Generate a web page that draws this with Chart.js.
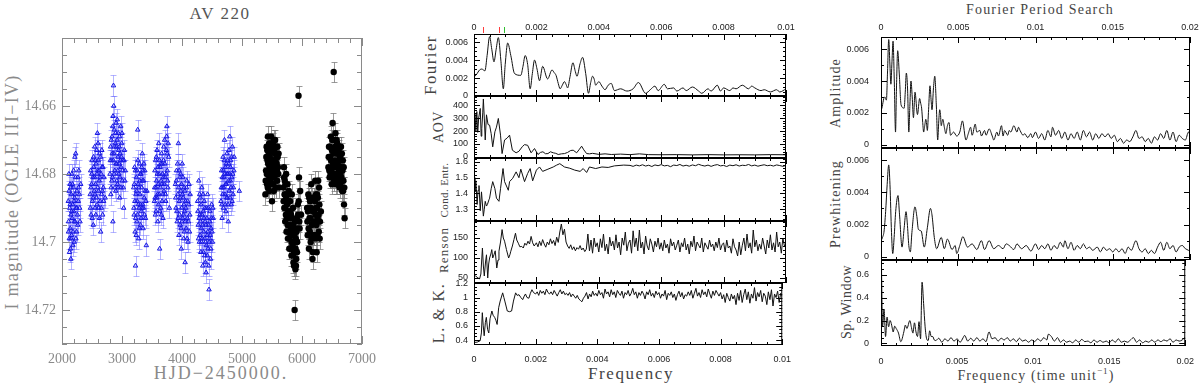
<!DOCTYPE html>
<html>
<head>
<meta charset="utf-8">
<script src="https://cdn.jsdelivr.net/npm/chart.js@4.4.1/dist/chart.umd.min.js"></script>
<style>
body { margin: 0; background: #fff; width: 1200px; height: 385px; overflow: hidden; position: relative; font-family: "Liberation Serif", serif; }
canvas { position: absolute; }
.lbl { position: absolute; white-space: nowrap; transform: translate(-50%, -50%); line-height: 1; }
.rot { transform: translate(-50%, -50%) rotate(-90deg); }
sup { font-size: 0.65em; }
</style>
</head>
<body>
<div class="lbl" style="left:220px;top:13px;font-size:17px;letter-spacing:1.5px;color:#555">AV 220</div>
<div class="lbl" style="left:221px;top:373px;font-size:18px;letter-spacing:2px;color:#8a8a8a">HJD−2450000.</div>
<div class="lbl rot" style="left:12px;top:192px;font-size:18px;letter-spacing:1.3px;color:#8a8a8a">I magnitude (OGLE III−IV)</div>

<div class="lbl rot" style="left:430px;top:65px;font-size:17px;letter-spacing:1.4px;color:#444">Fourier</div>
<div class="lbl rot" style="left:439px;top:127px;font-size:14px;letter-spacing:0.6px;color:#444">AOV</div>
<div class="lbl rot" style="left:444px;top:190px;font-size:11px;letter-spacing:0.4px;color:#444">Cond. Entr.</div>
<div class="lbl rot" style="left:443px;top:250px;font-size:13px;letter-spacing:1.2px;color:#444">Renson</div>
<div class="lbl rot" style="left:439px;top:313px;font-size:16px;letter-spacing:1.5px;color:#444">L. &amp; K.</div>
<div class="lbl" style="left:631px;top:373px;font-size:17px;letter-spacing:1.6px;color:#444">Frequency</div>

<div class="lbl" style="left:1040px;top:10px;font-size:14px;letter-spacing:1.2px;color:#444">Fourier Period Search</div>
<div class="lbl rot" style="left:836px;top:93px;font-size:14px;letter-spacing:1.1px;color:#444">Amplitude</div>
<div class="lbl rot" style="left:836px;top:204px;font-size:14px;letter-spacing:1.1px;color:#444">Prewhitening</div>
<div class="lbl rot" style="left:847px;top:302px;font-size:14px;letter-spacing:0.5px;color:#444">Sp. Window</div>
<div class="lbl" style="left:1036px;top:375px;font-size:14px;letter-spacing:1.1px;color:#444">Frequency (time unit<sup>−1</sup>)</div>

<script>
// ---- light curve: OGLE III-IV seasons (blue), [HJD-2450000, I mag]
const ogleS1 = [[2105,14.688],[2110,14.694],[2118,14.685],[2122,14.699],[2128,14.690],[2133,14.683],[2138,14.696],[2142,14.702],[2147,14.705],[2150,14.692],[2155,14.686],[2160,14.698],[2165,14.680],[2170,14.693],[2178,14.689],[2185,14.697],[2190,14.684],[2196,14.691],[2203,14.700],[2210,14.687],[2215,14.675],[2220,14.694],[2228,14.674],[2235,14.690],[2242,14.697],[2250,14.685],[2258,14.692],[2265,14.681],[2272,14.688],[2280,14.679],[2290,14.686],[2300,14.694],[2312,14.683],
  [2108,14.697],[2115,14.680],[2125,14.703],[2136,14.689],[2145,14.684],[2152,14.699],[2162,14.691],[2175,14.683],[2182,14.701],[2193,14.679],[2200,14.688],[2207,14.694],[2218,14.686],[2225,14.681],[2232,14.699],[2246,14.690],[2262,14.695],[2276,14.684],[2295,14.690]];
const ogleS2 = [[2470,14.686],[2478,14.679],[2485,14.692],[2492,14.683],[2500,14.676],[2508,14.688],[2515,14.681],[2522,14.695],[2530,14.678],[2538,14.685],[2545,14.672],[2552,14.690],[2560,14.683],[2568,14.677],[2575,14.687],[2582,14.680],[2590,14.668],[2597,14.684],[2605,14.676],[2612,14.690],[2620,14.682],[2628,14.674],[2636,14.688],[2645,14.697],[2652,14.680],[2660,14.686],[2668,14.678],[2678,14.692],[2688,14.684],[2700,14.681],[2720,14.687],
  [2474,14.690],[2482,14.684],[2496,14.680],[2504,14.693],[2519,14.687],[2526,14.675],[2542,14.681],[2549,14.686],[2556,14.676],[2564,14.692],[2579,14.673],[2586,14.689],[2594,14.679],[2601,14.671],[2609,14.685],[2616,14.679],[2624,14.693],[2632,14.681],[2641,14.675],[2656,14.690],[2664,14.673],[2673,14.685],[2683,14.678],[2694,14.688]];
const ogleS3 = [[2800,14.680],[2810,14.672],[2818,14.684],[2826,14.676],[2834,14.669],[2842,14.681],[2848,14.694],[2850,14.663],[2858,14.654],[2865,14.674],[2872,14.667],[2880,14.679],[2888,14.671],[2895,14.685],[2902,14.665],[2910,14.677],[2918,14.670],[2925,14.683],[2932,14.675],[2940,14.668],[2948,14.680],[2955,14.672],[2962,14.687],[2970,14.674],[2978,14.666],[2986,14.678],[2995,14.671],[3005,14.682],[3015,14.676],[3028,14.690],[3040,14.673],[3055,14.679],
  [2805,14.676],[2814,14.686],[2822,14.670],[2830,14.682],[2838,14.674],[2846,14.666],[2854,14.676],[2862,14.660],[2869,14.680],[2876,14.672],[2884,14.684],[2892,14.668],[2899,14.677],[2906,14.672],[2914,14.682],[2921,14.664],[2929,14.679],[2936,14.684],[2944,14.673],[2952,14.677],[2959,14.669],[2966,14.681],[2974,14.676],[2982,14.684],[2990,14.675],[3000,14.668],[3010,14.679],[3022,14.684],[3034,14.676],[3048,14.682]];
const ogleS4 = [[3195,14.684],[3202,14.692],[3210,14.678],[3218,14.697],[3225,14.707],[3232,14.686],[3240,14.681],[3248,14.694],[3255,14.688],[3262,14.667],[3270,14.683],[3278,14.699],[3285,14.690],[3292,14.677],[3300,14.686],[3308,14.695],[3315,14.680],[3322,14.691],[3330,14.684],[3338,14.674],[3345,14.689],[3352,14.696],[3360,14.682],[3370,14.687],[3380,14.679],[3392,14.693],[3405,14.701],[3415,14.685],
  [3198,14.690],[3206,14.683],[3214,14.688],[3222,14.679],[3228,14.693],[3236,14.698],[3244,14.685],[3251,14.679],[3259,14.692],[3266,14.676],[3274,14.689],[3282,14.684],[3289,14.696],[3296,14.682],[3304,14.680],[3311,14.689],[3318,14.693],[3326,14.678],[3334,14.690],[3341,14.682],[3348,14.679],[3356,14.690],[3365,14.677],[3375,14.692],[3386,14.685],[3398,14.688]];
const ogleS5 = [[3540,14.688],[3548,14.679],[3556,14.692],[3564,14.684],[3572,14.675],[3580,14.687],[3588,14.680],[3596,14.694],[3604,14.683],[3612,14.671],[3620,14.686],[3628,14.702],[3636,14.678],[3644,14.690],[3652,14.682],[3660,14.674],[3668,14.688],[3676,14.680],[3684,14.693],[3692,14.676],[3700,14.685],[3710,14.670],[3720,14.681],[3730,14.688],[3740,14.673],[3748,14.666],[3755,14.679],[3765,14.684],[3778,14.675],[3790,14.690],
  [3544,14.684],[3552,14.687],[3560,14.676],[3568,14.691],[3576,14.682],[3584,14.673],[3592,14.686],[3600,14.678],[3608,14.689],[3616,14.680],[3624,14.676],[3632,14.691],[3640,14.684],[3648,14.677],[3656,14.692],[3664,14.683],[3672,14.677],[3680,14.686],[3688,14.681],[3696,14.672],[3705,14.683],[3715,14.677],[3725,14.686],[3735,14.680],[3744,14.669],[3752,14.674],[3760,14.682],[3770,14.671]];
const ogleS6 = [[3890,14.683],[3900,14.690],[3910,14.679],[3920,14.694],[3930,14.686],[3940,14.671],[3948,14.698],[3956,14.688],[3964,14.681],[3972,14.695],[3980,14.685],[3988,14.702],[3996,14.690],[4004,14.677],[4012,14.693],[4020,14.687],[4028,14.699],[4036,14.684],[4044,14.691],[4052,14.706],[4060,14.688],[4070,14.696],[4080,14.682],[4090,14.693],[4100,14.700],[4112,14.689],[4125,14.697],[4135,14.686],
  [3895,14.687],[3905,14.682],[3915,14.691],[3925,14.677],[3935,14.693],[3944,14.684],[3952,14.679],[3960,14.692],[3968,14.687],[3976,14.680],[3984,14.696],[3992,14.683],[4000,14.694],[4008,14.686],[4016,14.681],[4024,14.692],[4032,14.689],[4040,14.697],[4048,14.685],[4056,14.694],[4065,14.690],[4075,14.684],[4085,14.699],[4095,14.688],[4106,14.694],[4118,14.683],[4130,14.692]];
const ogleS7 = [[4260,14.688],[4270,14.695],[4280,14.682],[4290,14.700],[4298,14.692],[4306,14.687],[4314,14.703],[4322,14.696],[4330,14.684],[4338,14.699],[4346,14.707],[4354,14.691],[4362,14.697],[4370,14.688],[4378,14.704],[4386,14.694],[4394,14.700],[4402,14.709],[4410,14.690],[4418,14.698],[4426,14.686],[4434,14.702],[4442,14.695],[4450,14.714],[4458,14.699],[4466,14.691],[4475,14.705],[4485,14.696],[4495,14.689],[4508,14.700],[4520,14.693],
  [4265,14.691],[4275,14.699],[4285,14.693],[4294,14.686],[4302,14.698],[4310,14.694],[4318,14.689],[4326,14.700],[4334,14.692],[4342,14.695],[4350,14.686],[4358,14.703],[4366,14.693],[4374,14.699],[4382,14.690],[4390,14.706],[4398,14.695],[4406,14.701],[4414,14.693],[4422,14.704],[4430,14.697],[4438,14.690],[4446,14.707],[4454,14.700],[4462,14.694],[4470,14.698],[4480,14.702],[4490,14.693],[4500,14.697],[4514,14.690]];
const ogleS8 = [[4650,14.688],[4660,14.679],[4668,14.693],[4676,14.684],[4684,14.675],[4692,14.690],[4700,14.681],[4708,14.670],[4716,14.686],[4724,14.678],[4732,14.691],[4740,14.683],[4748,14.674],[4756,14.687],[4764,14.680],[4772,14.694],[4780,14.677],[4788,14.685],[4796,14.669],[4804,14.682],[4812,14.676],[4820,14.689],[4830,14.681],[4840,14.672],[4852,14.686],[4865,14.679],[4955,14.685],
  [4655,14.684],[4664,14.689],[4672,14.681],[4680,14.686],[4688,14.679],[4696,14.684],[4704,14.676],[4712,14.680],[4720,14.689],[4728,14.683],[4736,14.677],[4744,14.687],[4752,14.680],[4760,14.676],[4768,14.689],[4776,14.682],[4784,14.673],[4792,14.680],[4800,14.687],[4808,14.678],[4816,14.684],[4825,14.675],[4835,14.688],[4846,14.680],[4858,14.684],[4870,14.675]];
const ogleErr = 0.003;

// ---- light curve: later seasons (black)
const newS1 = [[5390,14.686],[5400,14.679],[5410,14.672],[5418,14.683],[5425,14.676],[5432,14.669],[5440,14.680],[5447,14.674],[5454,14.685],[5460,14.678],[5467,14.671],[5474,14.682],[5480,14.676],[5487,14.669],[5494,14.680],[5500,14.688],[5507,14.673],[5514,14.678],[5520,14.683],[5527,14.670],[5534,14.676],[5541,14.681],[5548,14.674],[5555,14.679],[5562,14.684],[5570,14.672],[5578,14.677],[5586,14.682],[5595,14.675],[5605,14.680],[5615,14.684],
  [5395,14.682],[5405,14.675],[5414,14.680],[5422,14.673],[5429,14.684],[5436,14.677],[5444,14.682],[5451,14.671],[5457,14.681],[5464,14.675],[5470,14.679],[5477,14.673],[5484,14.683],[5490,14.677],[5497,14.672],[5504,14.681],[5510,14.676],[5517,14.671],[5524,14.680],[5530,14.685],[5538,14.673],[5545,14.678],[5552,14.670],[5559,14.676],[5566,14.680],[5574,14.675],[5582,14.679],[5590,14.672],[5600,14.678],[5610,14.674]];
const newS2 = [[5690,14.684],[5698,14.678],[5705,14.690],[5712,14.682],[5720,14.694],[5728,14.686],[5735,14.680],[5742,14.697],[5750,14.689],[5758,14.683],[5765,14.699],[5772,14.691],[5780,14.685],[5788,14.702],[5795,14.693],[5802,14.688],[5810,14.698],[5817,14.692],[5824,14.704],[5830,14.686],[5837,14.696],[5844,14.701],[5850,14.690],[5857,14.706],[5864,14.697],[5870,14.703],[5877,14.720],[5884,14.694],[5890,14.708],[5897,14.699],[5904,14.705],[5912,14.693],[5920,14.700],[5930,14.689],[5942,14.657],[5950,14.681],[5960,14.696],[5970,14.685],[5985,14.692],
  [5694,14.688],[5701,14.681],[5709,14.686],[5716,14.690],[5724,14.683],[5731,14.692],[5738,14.687],[5746,14.693],[5754,14.686],[5761,14.695],[5768,14.688],[5776,14.697],[5784,14.691],[5791,14.699],[5798,14.695],[5806,14.691],[5813,14.702],[5820,14.696],[5827,14.700],[5834,14.693],[5840,14.698],[5847,14.704],[5854,14.695],[5860,14.700],[5867,14.707],[5874,14.698],[5880,14.703],[5887,14.697],[5894,14.702],[5900,14.707],[5908,14.697],[5916,14.703],[5925,14.696],[5935,14.692],[5945,14.688],[5955,14.694]];
const newS3 = [[6085,14.690],[6095,14.698],[6105,14.686],[6115,14.702],[6125,14.693],[6135,14.688],[6145,14.700],[6155,14.683],[6165,14.695],[6175,14.705],[6185,14.691],[6195,14.698],[6205,14.687],[6212,14.694],[6220,14.682],[6228,14.699],[6236,14.690],[6244,14.703],[6252,14.686],[6260,14.693],[6270,14.682],[6280,14.697],[6290,14.689],[6300,14.694],[6315,14.691],
  [6090,14.694],[6100,14.691],[6110,14.696],[6120,14.687],[6130,14.697],[6140,14.693],[6150,14.690],[6160,14.699],[6170,14.687],[6180,14.703],[6190,14.694],[6200,14.691],[6208,14.698],[6216,14.688],[6224,14.692],[6232,14.686],[6240,14.695],[6248,14.690],[6256,14.698],[6265,14.687],[6275,14.692],[6285,14.684],[6295,14.699]];
const newS4 = [[6440,14.678],[6450,14.672],[6460,14.681],[6470,14.675],[6480,14.669],[6490,14.679],[6500,14.673],[6510,14.665],[6518,14.677],[6528,14.650],[6535,14.682],[6542,14.670],[6550,14.676],[6558,14.668],[6565,14.680],[6572,14.674],[6580,14.683],[6588,14.671],[6595,14.677],[6602,14.681],[6610,14.673],[6618,14.679],[6626,14.684],[6634,14.675],[6642,14.680],[6650,14.672],[6660,14.678],[6670,14.685],[6680,14.676],[6690,14.682],[6700,14.689],[6705,14.684],[6710,14.693],
  [6445,14.675],[6455,14.679],[6465,14.672],[6475,14.680],[6485,14.676],[6495,14.683],[6505,14.670],[6514,14.681],[6523,14.674],[6532,14.678],[6538,14.673],[6546,14.680],[6554,14.672],[6562,14.677],[6569,14.683],[6576,14.670],[6584,14.678],[6592,14.674],[6599,14.680],[6606,14.676],[6614,14.682],[6622,14.672],[6630,14.678],[6638,14.683],[6646,14.676],[6655,14.681],[6665,14.674],[6675,14.679],[6685,14.685],[6695,14.678]];
const newErr = 0.003;

// ---- periodograms, [frequency, value]
const fourierCurve = [[0,0.0021],[0.00008,0.0024],[0.00018,0.0029],[0.00025,0.0030],[0.00035,0.0028],[0.00042,0.0045],[0.0005,0.0066],[0.00057,0.0052],[0.00064,0.0038],[0.00071,0.0052],[0.00078,0.0065],[0.00086,0.0040],[0.00094,0.0008],[0.001,0.0035],[0.00108,0.0059],[0.00118,0.0045],[0.0013,0.0025],[0.0015,0.0023],[0.00157,0.0033],[0.00164,0.0045],[0.00172,0.0035],[0.0018,0.0008],[0.00187,0.0025],[0.00194,0.0040],[0.00202,0.0030],[0.0021,0.0017],[0.0022,0.0033],[0.00236,0.0019],[0.0025,0.0029],[0.00257,0.0026],[0.00263,0.0023],[0.0027,0.0014],[0.00276,0.0008],[0.00283,0.0012],[0.0029,0.0016],[0.00295,0.0013],[0.003,0.0009],[0.00308,0.0022],[0.00317,0.0037],[0.00325,0.0027],[0.0033,0.0022],[0.0034,0.0036],[0.00348,0.0043],[0.00358,0.0025],[0.00367,0.0003],[0.00374,0.0015],[0.0038,0.0022],[0.00385,0.0019],[0.0039,0.0012],[0.00395,0.0014],[0.004,0.0016],[0.0041,0.0011],[0.0042,0.0007],[0.0043,0.0012],[0.0044,0.0014],[0.0045,0.0006],[0.0047,0.0008],[0.0049,0.00055],[0.0051,0.0008],[0.00527,0.0015],[0.0055,0.0003],[0.00565,0.0007],[0.0058,0.0011],[0.0059,0.0006],[0.0061,0.0013],[0.0062,0.0008],[0.0064,0.0009],[0.0065,0.00055],[0.0067,0.0009],[0.0068,0.0006],[0.007,0.001],[0.0072,0.00055],[0.0073,0.0003],[0.0075,0.0008],[0.0076,0.00055],[0.0078,0.0012],[0.0079,0.00055],[0.008,0.0009],[0.0082,0.0006],[0.0083,0.0009],[0.0084,0.0008],[0.0086,0.0012],[0.0088,0.0008],[0.0089,0.0011],[0.009,0.0009],[0.0092,0.0006],[0.0093,0.0007],[0.0095,0.00045],[0.0097,0.0007],[0.0098,0.00045],[0.01,0.0008]];
const amplitudeTail = [[0.0102,0.0004],[0.0104,0.0007],[0.0106,0.0003],[0.0108,0.0009],[0.011,0.0005],[0.0111,0.0011],[0.0113,0.0006],[0.0115,0.0009],[0.0117,0.0004],[0.0119,0.0008],[0.0121,0.0003],[0.0123,0.0007],[0.0125,0.0004],[0.0127,0.0008],[0.0129,0.0003],[0.0131,0.0009],[0.0133,0.0005],[0.0135,0.0008],[0.0137,0.0003],[0.0139,0.0007],[0.0141,0.0004],[0.0143,0.0007],[0.0145,0.0005],[0.0147,0.0007],[0.0149,0.0004],[0.0151,0.0006],[0.0153,0.0002],[0.0155,0.0004],[0.0157,0.0001],[0.0159,0.0003],[0.0161,0.0002],[0.0163,0.0005],[0.0165,0.0009],[0.0167,0.0004],[0.0169,0.0005],[0.0171,0.0002],[0.0173,0.0004],[0.0175,0.0001],[0.0177,0.0005],[0.0179,0.0003],[0.0181,0.0007],[0.0183,0.0004],[0.0185,0.0009],[0.0187,0.0003],[0.0189,0.0008],[0.0191,0.0002],[0.0193,0.0006],[0.0195,0.0004],[0.0197,0.0003],[0.0199,0.0008],[0.02,0.0006]];
const aovCurve = [[0,245],[0.00003,330],[0.00006,200],[0.00009,350],[0.00012,190],[0.00015,300],[0.0002,374],[0.00023,160],[0.00025,220],[0.00028,340],[0.0003,447],[0.00033,300],[0.00036,131],[0.0004,325],[0.00045,250],[0.0005,245],[0.00055,180],[0.0006,78],[0.00067,194],[0.00072,230],[0.00078,297],[0.00085,168],[0.0009,26],[0.00098,131],[0.00106,145],[0.00114,168],[0.00123,52],[0.00135,32],[0.00144,44],[0.00155,80],[0.00162,95],[0.00172,90],[0.00183,32],[0.00194,65],[0.00205,19],[0.00213,35],[0.00221,40],[0.00229,25],[0.00237,26],[0.00245,40],[0.00254,32],[0.00262,28],[0.0027,19],[0.0028,24],[0.0029,26],[0.003,35],[0.0031,50],[0.00318,52],[0.00329,32],[0.00338,60],[0.00345,83],[0.00352,55],[0.00361,26],[0.0037,24],[0.0038,28],[0.004,20],[0.0042,24],[0.0044,19],[0.0047,22],[0.005,18],[0.0053,24],[0.0056,18],[0.006,17],[0.0065,18],[0.007,16],[0.0075,18],[0.008,16],[0.0085,17],[0.009,16],[0.0095,18],[0.01,17]];
const entropyCurve = [[0,1.50],[0.00003,1.41],[0.00006,1.48],[0.0001,1.33],[0.00013,1.42],[0.00016,1.45],[0.0002,1.29],[0.00024,1.41],[0.0003,1.256],[0.00033,1.30],[0.00036,1.35],[0.0004,1.32],[0.00043,1.33],[0.00048,1.36],[0.0005,1.37],[0.00055,1.43],[0.0006,1.475],[0.00067,1.43],[0.00072,1.37],[0.0008,1.35],[0.00085,1.43],[0.00093,1.558],[0.00098,1.475],[0.0011,1.42],[0.00114,1.475],[0.00124,1.496],[0.00135,1.537],[0.00144,1.50],[0.0015,1.554],[0.00162,1.475],[0.00172,1.527],[0.0018,1.558],[0.00188,1.48],[0.002,1.548],[0.0021,1.568],[0.0022,1.54],[0.00237,1.554],[0.00254,1.568],[0.00264,1.579],[0.00275,1.589],[0.0029,1.568],[0.00307,1.56],[0.00323,1.548],[0.0034,1.54],[0.0035,1.558],[0.00361,1.533],[0.0037,1.568],[0.0039,1.558],[0.0041,1.568],[0.0043,1.565],[0.0045,1.575],[0.0048,1.58]];
const entropyTail = [1.578,1.572,1.580,1.575,1.582,1.574,1.579,1.571,1.581,1.576,1.583,1.575,1.578,1.570,1.580,1.577,1.584,1.574,1.579,1.573,1.581,1.576,1.585,1.578,1.574,1.580,1.572,1.579,1.583,1.575,1.578,1.571,1.580,1.576,1.582,1.574,1.579,1.577,1.584,1.575,1.580,1.573,1.578,1.582,1.576,1.579,1.574,1.581,1.577,1.572,1.578];
const rensonCurve = [[0,58],[0.00005,55],[0.0001,52],[0.00013,50],[0.00018,48],[0.00022,60],[0.00027,125],[0.0003,80],[0.00033,55],[0.00037,90],[0.0004,108],[0.00044,50],[0.00047,85],[0.0005,100],[0.00054,110],[0.00057,121],[0.0006,100],[0.00064,108],[0.00068,118],[0.00073,75],[0.00077,95],[0.0008,117],[0.00085,140],[0.0009,171],[0.00094,150],[0.00098,142],[0.00104,121],[0.00111,100],[0.00115,108],[0.00118,117],[0.00123,130],[0.00128,146],[0.00133,162],[0.00137,145],[0.00142,137],[0.00147,128],[0.00153,129],[0.00158,125],[0.00163,137],[0.00168,132],[0.00173,142],[0.00178,135],[0.00183,154],[0.00188,138],[0.00193,130]];
const rensonTail = [138,128,142,131,146,135,127,140,133,148, 136,144,131,152,139,165,185,158,172,140, 130,124,133,121,128,118,126,122,131,120, 125,116,122,160,118,145,112,150,128,138, 115,148,126,160,118,135,110,152,130,142, 120,158,125,140,108,150,132,165,118,137, 145,112,168,128,150,118,170,125,140,110, 155,130,120,148,135,115,142,128,150,122, 138,118,145,125,135,112,148,130,140,120, 132,145,115,138,128,150,120,135,110,142, 128,155,118,140,132,125,150,115,138,130, 122,145,128,135,118,140,126,150,120,133, 138,115,145,125,130,112,148,128,120,105, 140,108,132,150,118,160,125,138,112,170, 128,145,118,135,122,150,130,110,145,125, 158,120,138,115,165,128,140,112,150,130, 135];
const lkCurve = [[0,0.366],[0.0001,0.37],[0.0002,0.39],[0.00024,0.5],[0.00027,0.786],[0.0003,0.6],[0.00033,0.46],[0.00037,0.65],[0.0004,0.72],[0.00044,0.55],[0.00048,0.5],[0.00052,0.7],[0.00058,0.81],[0.00062,0.75],[0.00067,0.72],[0.00071,0.68],[0.00075,0.62],[0.0008,0.856],[0.00085,0.95],[0.00093,1.066],[0.00097,1.0],[0.001,0.95],[0.00104,0.88],[0.00108,0.81],[0.00115,0.8],[0.00122,0.81],[0.00128,0.95],[0.00135,1.066],[0.0014,1.03],[0.00146,1.04],[0.00152,1.0],[0.00158,0.97],[0.00163,1.02],[0.00167,1.05],[0.00172,1.0],[0.00178,0.99],[0.00183,1.06],[0.00188,1.11],[0.00193,1.07]];
const lkTail = [1.05,1.08,1.03,1.10,1.06,1.09,1.04,1.12,1.07,1.05, 1.08,1.04,1.10,1.06,1.02,1.07,1.11,1.05,1.09,1.04, 1.06,1.03,1.07,1.01,1.05,1.02,0.99,1.03,0.98,0.96, 0.94,0.99,1.02,1.07,0.98,1.05,1.01,1.09,1.03,1.06, 1.02,1.10,1.04,1.07,0.99,1.12,1.05,1.08,1.01,1.11, 1.04,1.08,1.00,1.10,1.06,1.03,1.09,0.99,1.07,1.04, 1.10,1.02,1.06,1.13,1.04,1.08,0.99,1.07,1.03,1.09, 1.05,0.98,1.08,1.04,1.11,1.02,1.06,1.00,1.09,1.04, 1.07,0.99,1.05,1.02,1.10,0.97,1.06,1.03,1.08,1.00, 1.05,0.96,1.04,1.09,1.01,1.07,0.98,1.04,1.02,1.08, 1.03,1.10,0.99,1.06,1.13,1.02,1.07,1.00,1.11,1.04, 1.08,1.01,1.12,1.05,0.99,1.09,1.03,1.10,1.06,1.02, 1.07,0.98,1.04,0.93,1.06,1.00,0.95,1.05,0.98,1.03, 0.90,1.06,0.96,1.10,0.93,1.04,1.12,0.97,1.08,0.92, 1.05,0.99,1.14,0.95,1.07,1.01,1.10,0.94,1.06,1.02, 0.90,1.08,0.97,1.11,0.88,1.05,1.00,1.09,0.93,1.06, 1.02];
const prewhitenCurve = [[0,0.0010],[0.0001,0.0012],[0.0002,0.0016],[0.0003,0.0028],[0.0004,0.0045],[0.0005,0.0057],[0.00058,0.0045],[0.00068,0.0015],[0.00076,0.0002],[0.00085,0.0012],[0.00095,0.0028],[0.0011,0.0038],[0.0012,0.0026],[0.00136,0.0006],[0.0015,0.0018],[0.00162,0.0028],[0.0017,0.0021],[0.0018,0.0007],[0.0019,0.0003],[0.002,0.0015],[0.0022,0.0031],[0.00232,0.0025],[0.00242,0.0017],[0.0026,0.0016],[0.0028,0.0006],[0.003,0.0018],[0.0032,0.003],[0.0033,0.0026],[0.00345,0.0012],[0.0036,0.0005],[0.0039,0.0012],[0.0041,0.0005],[0.0043,0.0011],[0.0046,0.00045],[0.0048,0.0007],[0.0049,0.0002],[0.0051,0.0007],[0.0053,0.00125],[0.0056,0.0006],[0.0059,0.0008],[0.0062,0.00045],[0.0065,0.001],[0.0067,0.00045],[0.007,0.001],[0.0073,0.0005],[0.0076,0.0007],[0.0079,0.0005],[0.0081,0.0008],[0.0083,0.0007],[0.0086,0.00045],[0.0088,0.0008],[0.0091,0.0005],[0.0094,0.0007],[0.0097,0.00035],[0.01,0.0008],[0.0102,0.00045],[0.0104,0.0007],[0.0106,0.0005],[0.0108,0.0008],[0.011,0.0004],[0.0112,0.0007],[0.0114,0.0005],[0.0116,0.0009],[0.0118,0.0006],[0.0119,0.001],[0.0121,0.0005],[0.0123,0.0009],[0.0125,0.0004],[0.0127,0.0007],[0.0129,0.0005],[0.0131,0.0008],[0.0133,0.0005],[0.0135,0.0006],[0.0137,0.0004],[0.014,0.0006],[0.0142,0.0003],[0.0144,0.0006],[0.0146,0.0004],[0.0148,0.0005],[0.015,0.0003],[0.0152,0.0005],[0.0154,0.0003],[0.0156,0.0005],[0.0158,0.0002],[0.016,0.0006],[0.0162,0.0004],[0.0165,0.001],[0.0167,0.0005],[0.0169,0.0003],[0.0171,0.0005],[0.0173,0.0002],[0.0175,0.0004],[0.0177,0.0002],[0.0179,0.0006],[0.0181,0.0009],[0.0183,0.0004],[0.0185,0.0009],[0.0187,0.0005],[0.0189,0.0007],[0.0191,0.0003],[0.0193,0.0006],[0.0195,0.0007],[0.0197,0.0005],[0.0199,0.0004],[0.02,0.0003]];
const windowCurve = [[0,1.0],[0.00005,0.5],[0.0001,0.145],[0.0002,0.30],[0.0003,0.06],[0.0004,0.23],[0.0005,0.145],[0.0006,0.2],[0.0007,0.16],[0.0008,0.1],[0.0009,0.15],[0.001,0.13],[0.00115,0.09],[0.0013,0.015],[0.0015,0.1],[0.0016,0.16],[0.0017,0.13],[0.0019,0.2],[0.002,0.14],[0.0021,0.09],[0.0022,0.18],[0.0023,0.1],[0.0024,0.06],[0.0025,0.19],[0.0026,0.04],[0.0027,0.536],[0.0028,0.35],[0.0029,0.145],[0.003,0.04],[0.0031,0.025],[0.0032,0.11],[0.0033,0.06],[0.0034,0.06],[0.0035,0.03],[0.0036,0.025],[0.0038,0.045],[0.004,0.01],[0.0042,0.04],[0.0044,0.02],[0.0046,0.05],[0.0048,0.02],[0.005,0.04],[0.0052,0.01],[0.0054,0.05],[0.0055,0.07],[0.0057,0.02],[0.0059,0.045],[0.0061,0.02],[0.0063,0.05],[0.0065,0.02],[0.0067,0.04],[0.0069,0.015],[0.0071,0.1],[0.0073,0.04],[0.0075,0.05],[0.0077,0.02],[0.0079,0.045],[0.0081,0.03],[0.0083,0.05],[0.0085,0.02],[0.0087,0.04],[0.0089,0.015],[0.0091,0.045],[0.0093,0.02],[0.0095,0.03],[0.0097,0.01],[0.0099,0.03],[0.0101,0.015],[0.0103,0.04],[0.0105,0.02],[0.0107,0.05],[0.0109,0.03],[0.011,0.08],[0.0112,0.06],[0.0114,0.02],[0.0116,0.05],[0.0118,0.01],[0.012,0.03],[0.0122,0.01],[0.0124,0.02],[0.0126,0.005],[0.0128,0.03],[0.013,0.01],[0.0132,0.035],[0.0134,0.015],[0.0136,0.02],[0.0138,0.005],[0.014,0.03],[0.0142,0.01],[0.0144,0.025],[0.0146,0.01],[0.0148,0.02],[0.015,0.005],[0.0152,0.03],[0.0154,0.01],[0.0156,0.04],[0.0158,0.01],[0.016,0.02],[0.0162,0.01],[0.0164,0.03],[0.0166,0.05],[0.0168,0.01],[0.017,0.03],[0.0172,0.005],[0.0174,0.02],[0.0176,0.01],[0.0178,0.03],[0.018,0.01],[0.0182,0.03],[0.0184,0.015],[0.0186,0.03],[0.0188,0.02],[0.019,0.04],[0.0192,0.01],[0.0194,0.03],[0.0196,0.02],[0.0198,0.03],[0.02,0.055]];
const periodMarks = [0.00029, 0.0008, 0.00096];
const periodMarkColors = ['#ff3b3b', '#ff3b3b', '#2fbf2f'];

// ---- tick labels
const hjdTicks = [2000, 3000, 4000, 5000, 6000, 7000];
const magTicks = [14.66, 14.68, 14.7, 14.72];
const freqTicks10 = [0, 0.002, 0.004, 0.006, 0.008, 0.01];
const freqTicks20 = [0, 0.005, 0.01, 0.015, 0.02];
const fourierTicks = [0, 0.002, 0.004, 0.006];
const aovTicks = [0, 100, 200, 300, 400];
const entropyTicks = [1.3, 1.4, 1.5, 1.6];
const rensonTicks = [50, 100, 150];
const lkTicks = [0.4, 0.6, 0.8, 1, 1.2];
const windowTicks = [0, 0.2, 0.4, 0.6];

// dense tails sit on the periodogram's own frequency grid
function withTail(pairs, start, step, tail) {
  const pts = pairs.map(p => ({x: p[0], y: p[1]}));
  tail.forEach((v, i) => pts.push({x: start + i * step, y: v}));
  return pts;
}
const fmt = v => String(+Number(v).toFixed(6));

// error bars, drawn under the symbols
const errPlugin = {
  id: 'errbars',
  beforeDatasetsDraw(chart) {
    const {ctx, scales: {x, y}} = chart;
    chart.data.datasets.forEach(ds => {
      if (!ds.err) return;
      ctx.save();
      ctx.strokeStyle = ds.errColor;
      ctx.lineWidth = 1;
      ctx.beginPath();
      ds.data.forEach(p => {
        const px = Math.round(x.getPixelForValue(p.x)) + 0.5;
        const y1 = Math.round(y.getPixelForValue(p.y - ds.err)) + 0.5;
        const y2 = Math.round(y.getPixelForValue(p.y + ds.err)) + 0.5;
        ctx.moveTo(px, y1); ctx.lineTo(px, y2);
        ctx.moveTo(px - 3, y1); ctx.lineTo(px + 3, y1);
        ctx.moveTo(px - 3, y2); ctx.lineTo(px + 3, y2);
      });
      ctx.stroke();
      ctx.restore();
    });
  }
};

// pgplot style box: frame plus inward ticks on all four sides
const framePlugin = {
  id: 'frame',
  afterDatasetsDraw(chart, args, o) {
    const {ctx, chartArea: a, scales} = chart;
    ctx.save();
    ctx.strokeStyle = o.color;
    ctx.lineWidth = 1;
    ctx.beginPath();
    const tick = (scale, step, len, horiz) => {
      if (!step) return;
      const k0 = Math.ceil(scale.min / step - 1e-6);
      for (let k = k0; k * step <= scale.max + step * 1e-6; k++) {
        const p = Math.round(scale.getPixelForValue(k * step)) + 0.5;
        if (horiz) {
          ctx.moveTo(p, a.bottom); ctx.lineTo(p, a.bottom - len);
          ctx.moveTo(p, a.top); ctx.lineTo(p, a.top + len);
        } else {
          ctx.moveTo(a.left, p); ctx.lineTo(a.left + len, p);
          ctx.moveTo(a.right, p); ctx.lineTo(a.right - len, p);
        }
      }
    };
    tick(scales.x, o.xMinor, o.minorLen, true);
    tick(scales.x, o.xMajor, o.majorLen, true);
    tick(scales.y, o.yMinor, o.minorLen, false);
    tick(scales.y, o.yMajor, o.majorLen, false);
    ctx.stroke();
    ctx.strokeRect(a.left + 0.5, a.top + 0.5, a.right - a.left - 1, a.bottom - a.top - 1);
    if (o.marks) {
      o.marks.forEach((f, i) => {
        const p = Math.round(scales.x.getPixelForValue(f)) + 0.5;
        ctx.strokeStyle = o.markColors[i];
        ctx.beginPath();
        ctx.moveTo(p, a.top - 7); ctx.lineTo(p, a.top - 1);
        ctx.stroke();
      });
    }
    ctx.restore();
  }
};

function panel(box, type, datasets, o) {
  const mt = 24, mb = 24, ml = o.ml, mr = 14;
  const cv = document.createElement('canvas');
  cv.width = box.r - box.l + ml + mr;
  cv.height = box.b - box.t + mt + mb;
  cv.style.left = (box.l - ml) + 'px';
  cv.style.top = (box.t - mt) + 'px';
  document.body.appendChild(cv);
  const axisX = (pos, show, size, pad) => ({
    type: 'linear', position: pos, min: o.xMin, max: o.xMax,
    grid: {display: false, drawTicks: false}, border: {display: false},
    ticks: {display: show, font: o.font, color: o.tickColor, padding: pad, maxRotation: 0, autoSkip: false, callback: fmt},
    afterBuildTicks: s => { s.ticks = o.xTicks.map(v => ({value: v})); },
    afterFit: s => { s.height = size; }
  });
  return new Chart(cv, {
    type: type,
    data: {datasets: datasets},
    options: {
      responsive: false, animation: false, events: [],
      layout: {padding: {left: 0, right: mr, top: 0, bottom: 0}},
      plugins: {
        legend: {display: false}, tooltip: {enabled: false},
        frame: Object.assign({color: '#000', majorLen: 6, minorLen: 3}, o.frame)
      },
      scales: {
        x: axisX('bottom', !!o.bottomAxis, mb, o.padB),
        x2: axisX('top', !!o.topAxis, mt, o.padT),
        y: {
          type: 'linear', position: 'left', min: o.yMin, max: o.yMax, reverse: !!o.reverse,
          grid: {display: false, drawTicks: false}, border: {display: false},
          ticks: {font: o.font, color: o.tickColor, padding: o.yPad, autoSkip: false, callback: fmt},
          afterBuildTicks: s => { s.ticks = o.yTicks.map(v => ({value: v})); },
          afterFit: s => { s.width = ml; }
        }
      }
    },
    plugins: [errPlugin, framePlugin]
  });
}

const line = (pts, smooth) => ({
  data: pts, xAxisID: 'x', borderColor: '#111', borderWidth: 1, pointRadius: 0,
  fill: false, cubicInterpolationMode: smooth ? 'monotone' : 'default', tension: 0
});

// ---- left: light curve
const ogle = [].concat(ogleS1, ogleS2, ogleS3, ogleS4, ogleS5, ogleS6, ogleS7, ogleS8).map(p => ({x: p[0], y: p[1]}));
const recent = [].concat(newS1, newS2, newS3, newS4).map(p => ({x: p[0], y: p[1]}));
panel({l: 62, t: 38, r: 369, b: 344}, 'scatter', [
  {data: ogle, xAxisID: 'x', pointStyle: 'triangle', pointRadius: 2.6, borderWidth: 1,
   borderColor: 'rgb(25,25,225)', backgroundColor: 'rgba(60,60,255,0.2)',
   err: ogleErr, errColor: 'rgba(90,90,255,0.45)'},
  {data: recent, xAxisID: 'x', pointStyle: 'circle', pointRadius: 3.2, borderWidth: 0,
   backgroundColor: '#000', err: newErr, errColor: 'rgba(120,120,120,0.75)'}
], {ml: 62, xMin: 2000, xMax: 7000, yMin: 14.64, yMax: 14.73, reverse: true,
    xTicks: hjdTicks, yTicks: magTicks, bottomAxis: true, padB: 7, padT: 3, yPad: 6,
    font: {family: 'Liberation Serif', size: 14}, tickColor: '#8a8a8a',
    frame: {color: '#8a8a8a', xMajor: 1000, xMinor: 200, yMajor: 0.02, yMinor: 0.005, majorLen: 8, minorLen: 5}});

// ---- middle: five period search methods
const midFont = {family: 'Liberation Sans', size: 9};
const mid = (t, b) => ({l: 474, t: t, r: 786, b: b});
const midOpts = extra => Object.assign({ml: 44, xMin: 0, xMax: 0.01, xTicks: freqTicks10, yPad: 6,
  padB: 9, padT: 1, font: midFont, tickColor: '#222'}, extra);
panel(mid(34, 96), 'line', [line(fourierCurve.map(p => ({x: p[0], y: p[1]})), true)],
  midOpts({yMin: 0, yMax: 0.0069, yTicks: fourierTicks, topAxis: true,
    frame: {xMajor: 0.002, xMinor: 0.0005, yMajor: 0.002, yMinor: 0.0005, marks: periodMarks, markColors: periodMarkColors}}));
panel(mid(96, 158), 'line', [line(aovCurve.map(p => ({x: p[0], y: p[1]})), false)],
  midOpts({yMin: -8, yMax: 470, yTicks: aovTicks, frame: {xMajor: 0.002, xMinor: 0.0005, yMajor: 100, yMinor: 20}}));
panel(mid(158, 221), 'line', [line(withTail(entropyCurve, 0.005, 0.0001, entropyTail), false)],
  midOpts({yMin: 1.225, yMax: 1.625, yTicks: entropyTicks, frame: {xMajor: 0.002, xMinor: 0.0005, yMajor: 0.1, yMinor: 0.02}}));
panel(mid(221, 283), 'line', [line(withTail(rensonCurve, 0.002, 0.00005, rensonTail), false)],
  midOpts({yMin: 37.5, yMax: 192.5, yTicks: rensonTicks, frame: {xMajor: 0.002, xMinor: 0.0005, yMajor: 50, yMinor: 10}}));
panel(mid(283, 345), 'line', [line(withTail(lkCurve, 0.002, 0.00005, lkTail), false)],
  midOpts({yMin: 0.33, yMax: 1.205, yTicks: lkTicks, bottomAxis: true,
    frame: {xMajor: 0.002, xMinor: 0.0005, yMajor: 0.2, yMinor: 0.05}}));

// ---- right: Fourier period search
const right = (t, b) => ({l: 881, t: t, r: 1190, b: b});
const rightOpts = extra => Object.assign({ml: 60, xMin: 0, xMax: 0.02, xTicks: freqTicks20, yPad: 12,
  padB: 10, padT: 4, font: midFont, tickColor: '#222'}, extra);
const amplitude = fourierCurve.concat(amplitudeTail).map(p => ({x: p[0], y: p[1]}));
panel(right(37, 148), 'line', [line(amplitude, true)],
  rightOpts({yMin: -0.0002, yMax: 0.00676, yTicks: fourierTicks, topAxis: true,
    frame: {xMajor: 0.005, xMinor: 0.001, yMajor: 0.002, yMinor: 0.001}}));
panel(right(148, 260), 'line', [line(prewhitenCurve.map(p => ({x: p[0], y: p[1]})), true)],
  rightOpts({yMin: -0.0002, yMax: 0.00675, yTicks: fourierTicks,
    frame: {xMajor: 0.005, xMinor: 0.001, yMajor: 0.002, yMinor: 0.001}}));
panel(right(260, 346), 'line', [line(windowCurve.map(p => ({x: p[0], y: p[1]})), true)],
  rightOpts({yMin: -0.023, yMax: 0.73, yTicks: windowTicks, bottomAxis: true,
    frame: {xMajor: 0.005, xMinor: 0.001, yMajor: 0.2, yMinor: 0.05}}));
</script>
</body>
</html>
